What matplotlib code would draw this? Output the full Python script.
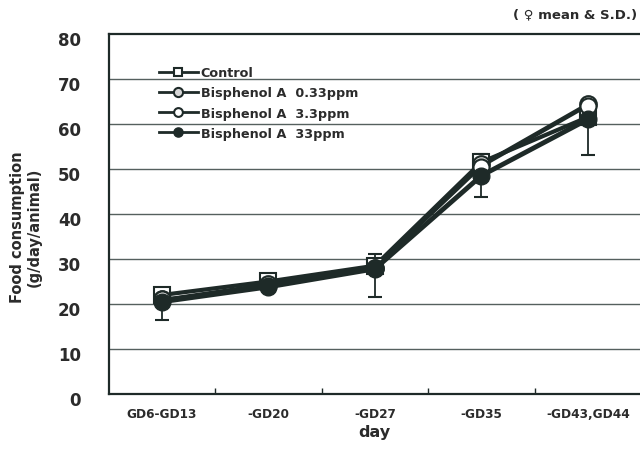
import matplotlib
matplotlib.use("Agg")
import matplotlib.pyplot as plt
import matplotlib.transforms as mtransforms
import numpy as np

plt.rcParams['font.family'] = ['DejaVu Sans', 'Noto Sans CJK JP']
plt.rcParams['font.weight'] = 'bold'

days = ["GD6-GD13", "-GD20", "-GD27", "-GD35", "-GD43,GD44"]
control = [22.0, 25.0, 28.5, 51.5, 61.5]
control_sd = [1.0, 1.0, 2.6, 1.8, 1.5]
bpa_033 = [21.0, 24.5, 28.0, 51.0, 64.5]
bpa_33 = [21.0, 24.0, 28.0, 50.5, 64.0]
bpa_330 = [20.5, 23.8, 27.8, 48.5, 61.0]
bpa_330_sd = [4.0, 1.0, 6.2, 4.7, 8.0]

ink = "#1e2a28"
txt = "#2b2b2b"
x = np.arange(len(days))

fig = plt.figure(figsize=(6.4, 4.52), dpi=100)
ax = fig.add_axes([0.170, 0.126, 0.830, 0.797])

# horizontal grid
for v in range(10, 80, 10):
    ax.axhline(v, color="#55605e", lw=1.0, zorder=0)

# SD bars: control upward, 33 ppm downward
ax.errorbar(x, control, yerr=[np.zeros(5), control_sd], fmt="none", ecolor=ink,
            capsize=5, elinewidth=1.3, capthick=1.5, zorder=2)
ax.errorbar(x, bpa_330, yerr=[bpa_330_sd, np.zeros(5)], fmt="none", ecolor=ink,
            capsize=5, elinewidth=1.3, capthick=1.5, zorder=2)

h_ctrl, = ax.plot(x, control, color=ink, lw=3, marker="s", ms=11, mfc="white",
                  mec=ink, mew=1.5, zorder=3, label="Control")
h_033, = ax.plot(x, bpa_033, color=ink, lw=2, marker="o", ms=12, mfc="#d6d6d6",
                 mec=ink, mew=1.5, zorder=4, label="Bisphenol A  0.33ppm")
h_33, = ax.plot(x, bpa_33, color=ink, lw=2, marker="o", ms=11.5, mfc="white",
                mec=ink, mew=1.5, zorder=4, label="Bisphenol A  3.3ppm")
h_330, = ax.plot(x, bpa_330, color=ink, lw=3.5, marker="o", ms=12, mfc=ink,
                 mec=ink, zorder=5, label="Bisphenol A  33ppm")

ax.set_xlim(-0.5, 4.49)
ax.set_ylim(0, 80)
ax.set_yticks(range(0, 81, 10))
ax.set_xticks(x)
ax.set_xticklabels(days, fontsize=8.7, fontweight="bold", color=txt)
ax.set_xticks(x[:-1] + 0.5, minor=True)
ax.tick_params(axis="x", which="major", length=0, pad=9)
ax.tick_params(axis="x", which="minor", direction="in", length=4, width=1,
               color=ink)
ax.tick_params(axis="y", length=0, pad=20, labelsize=12, labelcolor=txt)
for lab in ax.get_yticklabels():
    lab.set_fontweight("bold")
    lab.set_transform(lab.get_transform() +
                      mtransforms.ScaledTranslation(0, -3 / 72, fig.dpi_scale_trans))

ax.spines["right"].set_visible(False)
for s in ("left", "top", "bottom"):
    ax.spines[s].set_linewidth(1.6)
    ax.spines[s].set_color(ink)

ax.set_xlabel("day", fontsize=11.5, fontweight="bold", color=txt, labelpad=3)
fig.text(0.040, 0.497, "Food consumption\n(g/day/animal)", rotation=90,
         ha="center", va="center", fontsize=10.5, fontweight="bold",
         color=txt, linespacing=1.15, multialignment="center")

leg = ax.legend(handles=[h_ctrl, h_033, h_33, h_330], loc="upper left",
                bbox_to_anchor=(0.095, 0.91), frameon=False, borderpad=0,
                borderaxespad=0, markerscale=0.55, handlelength=3.0,
                handletextpad=0.25, labelspacing=0.56,
                prop={"weight": "bold", "size": 9.2}, labelcolor=txt)
for ln in leg.get_lines():
    ln.set_linewidth(2.0)

fig.text(0.995, 0.967, "( \u2640 mean & S.D.)", ha="right", va="center",
         fontsize=9.5, fontweight="bold", color=txt)

fig.savefig("out.png", dpi=100)
